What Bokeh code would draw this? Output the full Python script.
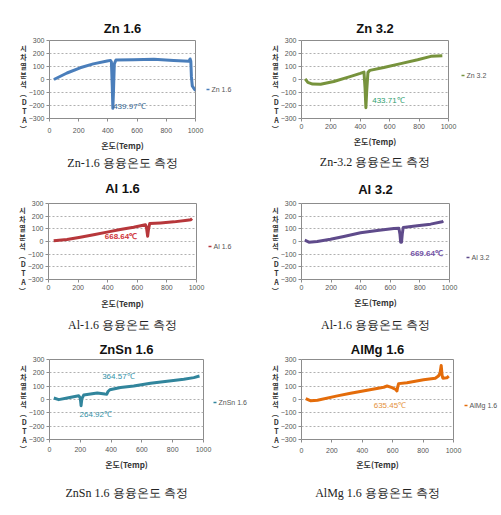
from bokeh.plotting import figure
from bokeh.layouts import column, row
from bokeh.models import Label, Title, Range1d, LinearAxis, FixedTicker
from bokeh.embed import file_html
from bokeh.resources import INLINE

# ---------------- data ----------------
x_ticks = [0, 200, 400, 600, 800, 1000]
y_ticks = [-300, -200, -100, 0, 100, 200, 300]
y_axis_text = " \n \n시\n차\n열\n분\n석\n︵\nD\nT\nA\n︶"
x_axis_text = "온도(Temp)"

zn16_temp = [30, 120, 210, 300, 395, 418, 424, 430, 434, 438, 444, 455, 575, 715, 850, 955, 963, 968, 972, 978, 990, 1000]
zn16_dta = [0, 50, 90, 120, 142, 147, 135, -60, -222, -100, 120, 150, 152, 155, 147, 140, 158, 140, 20, -50, -70, -85]

zn32_temp = [25, 43, 75, 130, 220, 330, 400, 425, 432, 438, 444, 452, 465, 560, 675, 790, 880, 958]
zn32_dta = [5, -22, -35, -37, -15, 22, 47, 57, -60, -217, -80, 55, 70, 92, 122, 152, 178, 182]

al16_temp = [35, 125, 215, 305, 395, 485, 575, 655, 662, 670, 676, 684, 757, 847, 937, 962, 970]
al16_dta = [5, 16, 34, 53, 74, 95, 113, 132, 110, 42, 100, 142, 147, 155, 168, 172, 180]

al32_temp = [22, 50, 106, 196, 286, 399, 511, 624, 658, 665, 670, 676, 681, 687, 782, 872, 950, 958]
al32_dta = [10, -5, 0, 18, 40, 69, 87, 103, 105, 60, -5, -5, 60, 111, 124, 137, 156, 162]

znsn16_temp = [28, 60, 115, 190, 200, 205, 210, 222, 310, 360, 372, 380, 392, 461, 547, 656, 764, 872, 937, 974]
znsn16_dta = [11, -1, 11, 28, 10, -46, 5, 33, 48, 41, 40, 60, 73, 90, 102, 122, 137, 152, 164, 176]

almg16_temp = [28, 61, 105, 236, 323, 432, 541, 563, 596, 620, 628, 632, 639, 694, 803, 880, 901, 912, 919, 925, 930, 956, 969]
almg16_dta = [7, -10, -5, 27, 47, 70, 92, 101, 89, 75, 64, 90, 119, 126, 148, 159, 176, 200, 255, 180, 160, 163, 176]

titles = ["Zn 1.6", "Zn 3.2", "Al 1.6", "Al 3.2", "ZnSn 1.6", "AlMg 1.6"]
captions = ["Zn-1.6 용융온도 측정", "Zn-3.2 용융온도 측정", "Al-1.6 용융온도 측정",
            "Al-1.6 용융온도 측정", "ZnSn 1.6 용융온도 측정", "AlMg 1.6 용융온도 측정"]

notes = [
    [("439.97℃", 436, -207)],
    [("433.71℃", 481, -165)],
    [("668.64℃", 380, 42)],
    [("669.64℃", 736, -92)],
    [("364.57℃", 342, 169), ("264.92℃", 195, -110)],
    [("635.45℃", 475, -47)],
]

# legend entry vertical position (in DTA units, on the right-hand side)
legend_y = [-74, 30, -39, -126, -26, -42]

# ---------------- styles ----------------
line_colors = ["#4A7EBB", "#77933C", "#B7373B", "#5F4B8B", "#31859C", "#E46C0A"]
note_colors = ["#2F5F8F", "#2E9E6E", "#D0343A", "#7352A6", "#3390A6", "#E4923A"]
note_bold = [False, False, True, True, False, False]

# border L, frame w, border R, border T, frame h, border B,
# title standoff, xlabel standoff, axis-label standoff, caption standoff, legend gap
geoms = [
    (49, 146, 55, 40, 78, 50, 10, 6, 4, 0, 11),
    (51, 147, 52, 40, 78, 50, 10, 2, 4, 6, 13),
    (48, 148, 54, 32, 76, 55, 15, 2, 5, 8, 12),
    (51, 148, 51, 32, 76, 55, 14, 2, 4, 10, 17),
    (49, 154, 47, 23, 80, 69, 5, 4, 4, 23, 10),
    (51, 152, 47, 23, 80, 69, 5, 5, 3, 23, 11),
]

SANS = "Liberation Sans"
CJK = "Noto Sans CJK KR"
SERIF = "Liberation Serif"


def make_panel(i, temps, dtas):
    bl, fw, br, bt, fh, bb, tst, xst, alst, cst, lgap = geoms[i]
    p = figure(frame_width=fw, frame_height=fh, output_backend="svg", toolbar_location=None,
               x_range=Range1d(0, 1000), y_range=Range1d(-300, 300),
               min_border_left=bl, min_border_right=br, min_border_top=bt, min_border_bottom=bb,
               background_fill_color="white", border_fill_color="white")
    p.outline_line_color = "#8c8c8c"

    p.title.text = titles[i]
    p.title.align = "center"
    p.title.text_font = SANS
    p.title.text_font_size = "13px"
    p.title.text_font_style = "bold"
    p.title.text_color = "#111111"
    p.title.standoff = tst

    p.xaxis.ticker = x_ticks
    p.yaxis.ticker = y_ticks
    for ax in (p.xaxis, p.yaxis):
        ax.axis_line_color = None
        ax.major_tick_line_color = "#8c8c8c"
        ax.major_tick_in = 0
        ax.major_tick_out = 3
        ax.minor_tick_line_color = None
        ax.major_label_text_font = SANS
        ax.major_label_text_font_size = "7px"
        ax.major_label_text_color = "#555555"
    p.xaxis.major_label_standoff = xst
    p.yaxis.major_label_standoff = 2

    p.xaxis.axis_label = x_axis_text
    p.xaxis.axis_label_text_font = CJK
    p.xaxis.axis_label_text_font_size = "8px"
    p.xaxis.axis_label_text_font_style = "bold"
    p.xaxis.axis_label_text_color = "#333333"
    p.xaxis.axis_label_standoff = alst

    yax = p.yaxis[0]
    yax.axis_label = y_axis_text
    yax.axis_label_text_font = CJK
    yax.axis_label_text_font_size = "7px"
    yax.axis_label_text_font_style = "bold"
    yax.axis_label_text_color = "#333333"
    yax.axis_label_text_line_height = 0.9
    yax.axis_label_standoff = -1
    if "axis_label_orientation" in yax.properties():
        yax.axis_label_orientation = "horizontal"

    p.xgrid.grid_line_color = None
    p.ygrid.grid_line_color = "#b0b0b0"
    p.ygrid.grid_line_dash = "2 2"

    p.line(temps, dtas, line_color=line_colors[i], line_width=3, line_join="round")

    for txt, nx, ny in notes[i]:
        p.add_layout(Label(x=nx, y=ny, text=txt, text_color=note_colors[i],
                           text_font=SANS, text_font_size="8px",
                           text_font_style="bold" if note_bold[i] else "normal",
                           text_baseline="middle", text_align="left"))

    # series key on the right side (short dash + series name)
    key = LinearAxis(ticker=FixedTicker(ticks=[legend_y[i]]),
                     major_label_overrides={legend_y[i]: titles[i]})
    key.axis_line_color = None
    key.minor_tick_line_color = None
    key.major_tick_line_color = line_colors[i]
    key.major_tick_line_width = 1.5
    key.major_tick_in = -lgap
    key.major_tick_out = lgap + 3
    key.major_label_standoff = 2
    key.major_label_text_font = SANS
    key.major_label_text_font_size = "7px"
    key.major_label_text_color = "#555555"
    p.add_layout(key, "right")

    p.add_layout(Title(text=captions[i], align="center", text_font=SERIF,
                       text_font_size="12px", text_font_style="normal",
                       text_color="#222222", standoff=cst), "below")
    return p


series = [(zn16_temp, zn16_dta), (zn32_temp, zn32_dta), (al16_temp, al16_dta),
          (al32_temp, al32_dta), (znsn16_temp, znsn16_dta), (almg16_temp, almg16_dta)]
panels = [make_panel(i, t, d) for i, (t, d) in enumerate(series)]

layout = column(row(panels[0], panels[1]), row(panels[2], panels[3]), row(panels[4], panels[5]))

open("out.html", "w").write(file_html(layout, INLINE))
